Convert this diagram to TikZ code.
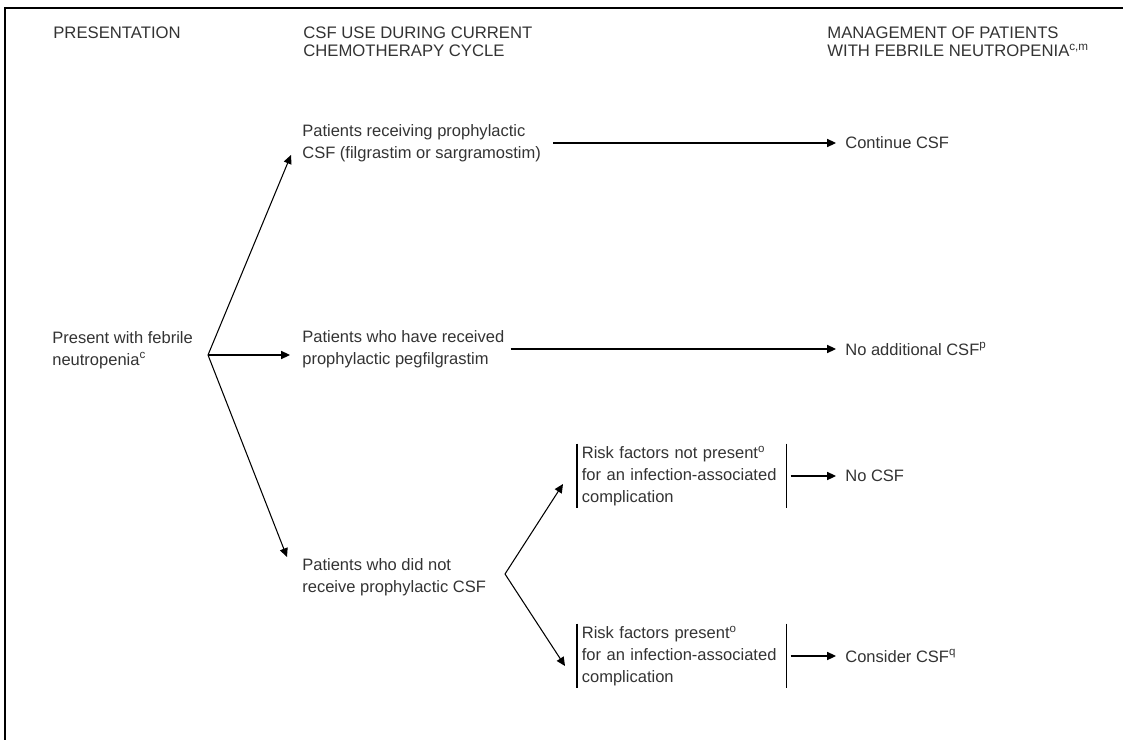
\documentclass[tikz,border=0pt]{standalone}
\usepackage{fontspec}
\setmainfont{Liberation Sans}
\usepackage{xcolor}
\usepackage{tikz}
\usetikzlibrary{arrows.meta,positioning}
\definecolor{inktext}{HTML}{333333}

\begin{document}
\begin{tikzpicture}[x=0.02cm,y=-0.02cm,
    every node/.style={font=\fontsize{9.4}{12.5}\selectfont,text=inktext,inner sep=0pt,align=left},
    head/.style={anchor=north west,font=\fontsize{9.5}{10.8}\selectfont},
    item/.style={anchor=west},
    riskbox/.style={anchor=west,text width=4cm,inner xsep=0.09cm,inner ysep=0.04cm},
    arr/.style={-{Triangle[length=5pt,width=4.6pt]},line width=0.6pt},
    gap/.style={shorten >=0.18cm}]
  \useasboundingbox (0,0) rectangle (1123,740);
  \draw[line width=1.2pt] (5,740) -- (5,8) -- (1123,8);
  % column heads
  \node[head] (hpres) at (53,26) {PRESENTATION};
  \node[head] (hcsf) at (303,26) {CSF USE DURING CURRENT\\CHEMOTHERAPY CYCLE};
  \node[head] (hmgmt) at (827,26) {MANAGEMENT OF PATIENTS\\WITH FEBRILE NEUTROPENIA\textsuperscript{c,m}};
  % presentation and CSF use
  \node[item] (present) at (52,350) {Present with febrile\\neutropenia\textsuperscript{c}};
  \node[item] (recv) at (302,143) {Patients receiving prophylactic\\CSF (filgrastim or sargramostim)};
  \node[item] (peg) at (302,349) {Patients who have received\\prophylactic pegfilgrastim};
  \node[item] (nocsfgiven) at (302,577) {Patients who did not\\receive prophylactic CSF};
  \node[riskbox] (rf1) at (577,476) {Risk factors not present\textsuperscript{o}\\for an infection-associated\\complication};
  \node[riskbox] (rf2) at (577,656) {Risk factors present\textsuperscript{o}\\for an infection-associated\\complication};
  % management
  \foreach \name/\y/\txt in {cont/143/Continue CSF, noadd/349/No additional CSF\textsuperscript{p}, nocsf/476/No CSF, cons/656/Consider CSF\textsuperscript{q}}
    \node[item] (\name) at (845,\y) {\txt};
  \foreach \b in {rf1,rf2} {
    \draw[line width=0.6pt] (\b.north west) -- (\b.south west);
    \draw[line width=0.6pt] (\b.north east) -- (\b.south east);
  }
  % branches
  \coordinate (fork1) at (208,355);
  \coordinate (fork2) at (505,574);
  \draw[arr] (fork1) -- ([xshift=-0.22cm,yshift=-0.24cm]recv.west);
  \draw[arr,shorten >=0.24cm] (fork1) -- (fork1 -| peg.west);
  \draw[arr] (fork1) -- ([xshift=-0.3cm,yshift=0.4cm]nocsfgiven.west);
  \draw[arr] (fork2) -- ([xshift=-0.28cm,yshift=-0.16cm]rf1.west);
  \draw[arr] (fork2) -- ([xshift=-0.24cm,yshift=-0.2cm]rf2.west);
  \draw[arr,shorten <=0.24cm,gap] (recv.east) -- (cont.west);
  \draw[arr,shorten <=0.12cm,gap] (peg.east) -- (noadd.west);
  \draw[arr,shorten <=0.08cm,gap] (rf1.east) -- (nocsf.west);
  \draw[arr,shorten <=0.08cm,gap] (rf2.east) -- (cons.west);
\end{tikzpicture}
\end{document}
